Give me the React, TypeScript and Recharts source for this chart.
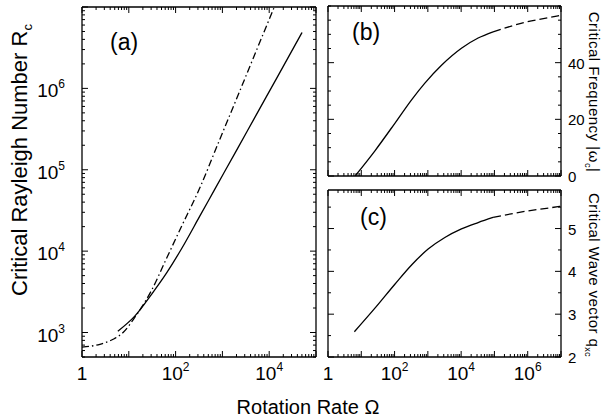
import React from 'react';
import { LineChart, Line, XAxis, YAxis } from 'recharts';

const W = 603;
const H = 418;
const FONT = '"Liberation Sans", Arial, Helvetica, sans-serif';

// (a) critical Rayleigh number vs rotation rate
const aSolidOmega = [5.83, 13.4, 30.9, 64.3, 134, 324, 676, 1990, 5290, 14100, 50300];
const aSolidR = [1038, 1590, 2970, 5400, 1.07e4, 2.65e4, 5.66e4, 1.72e5, 4.73e5, 1.3e6, 4.86e6];
const aDashOmega = [1, 2.41, 4.63, 7.56, 13.4, 30.4, 63.4, 132, 324, 863, 2300, 5560, 13500];
const aDashR = [660, 717, 826, 1000, 1530, 3270, 8040, 1.98e4, 5.87e4, 2.3e5, 9.0e5, 3.1e6, 1.07e7];

// (b) critical frequency
const bSolidOmega = [6.5, 25.7, 102, 324, 813, 2570, 10200, 32400, 91200];
const bSolidFreq = [0, 8.9, 18.6, 26.9, 32.8, 39.1, 45.1, 48.7, 50.9];
const bDashOmega = [91200, 813000, 8.13e6, 1e7];
const bDashFreq = [50.9, 54.2, 56.5, 56.7];

// (c) critical wave vector
const cSolidOmega = [6.2, 25.7, 102, 324, 1020, 3240, 10200, 32400, 91200];
const cSolidQ = [2.59, 3.14, 3.7, 4.15, 4.52, 4.79, 4.99, 5.14, 5.26];
const cDashOmega = [91200, 813000, 8.13e6, 1e7];
const cDashQ = [5.26, 5.4, 5.51, 5.52];

// tick labels
const aXLabels = [1, 1e2, 1e4];
const aYLabels = [1e3, 1e4, 1e5, 1e6];
const bcXLabels = [1, 1e2, 1e4, 1e6];
const bYLabels = [0, 20, 40];
const cYLabels = [2, 3, 4, 5];
const bYTicks = [0, 5, 10, 15, 20, 25, 30, 35, 40, 45, 50, 55, 60];
const cYTicks = [2, 2.5, 3, 3.5, 4, 4.5, 5, 5.5];

const zip = (xs: number[], ys: number[]) => xs.map((x, i) => ({ x, y: ys[i] }));

const logTicks = (lo: number, hi: number) => {
  const out: number[] = [];
  for (let d = Math.floor(Math.log10(lo)); d <= Math.ceil(Math.log10(hi)); d++) {
    for (let k = 1; k <= 9; k++) {
      const v = k * Math.pow(10, d);
      if (v >= lo * 0.999 && v <= hi * 1.001) out.push(v);
    }
  }
  return out;
};

const near = (a: number, b: number) => Math.abs(a - b) <= Math.max(Math.abs(b), 1) * 1e-6;
const isDecade = (v: number) => Math.abs(Math.log10(v) - Math.round(Math.log10(v))) < 1e-6;

const powLabel = (v: number) => {
  const e = Math.round(Math.log10(v));
  if (e === 0) return '1';
  return [
    <tspan key="b">10</tspan>,
    <tspan key="e" dy={-9} fontSize={12}>
      {e}
    </tspan>,
  ];
};

type Side = 'bottom' | 'top' | 'left' | 'right';

const makeTick =
  (side: Side, isMajor: (v: number) => boolean, labels: number[] = [], fmt?: (v: number) => any, fontSize = 19) =>
  (props: any) => {
    const { x, y, payload } = props;
    const v = payload.value as number;
    const len = isMajor(v) ? 6 : 3;
    let x2 = x;
    let y2 = y;
    if (side === 'bottom') y2 = y - len;
    if (side === 'top') y2 = y + len;
    if (side === 'left') x2 = x + len;
    if (side === 'right') x2 = x - len;
    const show = fmt && labels.some((l) => near(v, l));
    let label = null;
    if (show) {
      if (side === 'bottom')
        label = (
          <text x={x} y={y + 23} textAnchor="middle" fontSize={fontSize} fill="#000" fontFamily={FONT}>
            {fmt!(v)}
          </text>
        );
      if (side === 'left')
        label = (
          <text x={x - 17} y={y + 9} textAnchor="end" fontSize={fontSize} fill="#000" fontFamily={FONT}>
            {fmt!(v)}
          </text>
        );
      if (side === 'right')
        label = (
          <text x={x + 7} y={y + 6} textAnchor="start" fontSize={fontSize} fill="#000" fontFamily={FONT}>
            {fmt!(v)}
          </text>
        );
    }
    return (
      <g>
        <line x1={x} y1={y} x2={x2} y2={y2} stroke="#000" strokeWidth={1} />
        {label}
      </g>
    );
  };

const axisLine = { stroke: '#000', strokeWidth: 1.3 };
const common = { tickSize: 0, tickMargin: 0, tickLine: false, axisLine, interval: 0 as const, allowDataOverflow: true };

// plot box in page pixels: left, top, right, bottom
const Panel: React.FC<{
  box: [number, number, number, number];
  xDomain: [number, number];
  yDomain: [number, number];
  yLog: boolean;
  xTicks: number[];
  yTicks: number[];
  xLabels?: number[];
  yLabels: number[];
  yLabelSide: 'left' | 'right';
  yFmt: (v: number) => any;
  yFont: number;
  series: { data: { x: number; y: number }[]; dash?: string }[];
}> = (p) => {
  const yMajor = p.yLog ? isDecade : (v: number) => p.yLabels.some((l) => near(v, l));
  const [l, t, r, b] = p.box;
  // every axis is 1px thick, so the margins are one pixel smaller
  const margin = { left: l - 1, top: t - 1, right: W - r - 1, bottom: H - b - 1 };
  return (
    <div style={{ position: 'absolute', left: 0, top: 0 }}>
      <LineChart width={W} height={H} margin={margin}>
        <XAxis
          {...common}
          xAxisId="b"
          dataKey="x"
          type="number"
          scale="log"
          domain={p.xDomain}
          ticks={p.xTicks}
          height={1}
          tick={makeTick('bottom', isDecade, p.xLabels || [], p.xLabels ? powLabel : undefined)}
        />
        <XAxis
          {...common}
          xAxisId="t"
          orientation="top"
          dataKey="x"
          type="number"
          scale="log"
          domain={p.xDomain}
          ticks={p.xTicks}
          height={1}
          tick={makeTick('top', isDecade)}
        />
        <YAxis
          {...common}
          yAxisId="l"
          dataKey="y"
          type="number"
          scale={p.yLog ? 'log' : 'linear'}
          domain={p.yDomain}
          ticks={p.yTicks}
          width={1}
          tick={makeTick('left', yMajor, p.yLabels, p.yLabelSide === 'left' ? p.yFmt : undefined, p.yFont)}
        />
        <YAxis
          {...common}
          yAxisId="r"
          orientation="right"
          dataKey="y"
          type="number"
          scale={p.yLog ? 'log' : 'linear'}
          domain={p.yDomain}
          ticks={p.yTicks}
          width={1}
          tick={makeTick('right', yMajor, p.yLabels, p.yLabelSide === 'right' ? p.yFmt : undefined, p.yFont)}
        />
        {p.series.map((s, i) => (
          <Line
            key={i}
            xAxisId="b"
            yAxisId="l"
            data={s.data}
            dataKey="y"
            type="monotone"
            stroke="#000"
            strokeWidth={1.3}
            strokeDasharray={s.dash}
            dot={false}
            activeDot={false}
            isAnimationActive={false}
          />
        ))}
      </LineChart>
    </div>
  );
};

export default function App() {
  return (
    <div style={{ position: 'absolute', left: 0, top: 0, width: W, height: H, background: '#fff', fontFamily: FONT }}>
      <Panel
        box={[82, 7, 316, 357]}
        xDomain={[1, 1e5]}
        yDomain={[500, 1e7]}
        yLog
        xTicks={logTicks(1, 1e5)}
        yTicks={logTicks(500, 1e7)}
        xLabels={aXLabels}
        yLabels={aYLabels}
        yLabelSide="left"
        yFmt={powLabel}
        yFont={19}
        series={[
          { data: zip(aSolidOmega, aSolidR) },
          { data: zip(aDashOmega, aDashR), dash: '7 3 1.5 3' },
        ]}
      />
      <Panel
        box={[328, 6, 561, 176]}
        xDomain={[1, 1e7]}
        yDomain={[0, 60]}
        yLog={false}
        xTicks={logTicks(1, 1e7)}
        yTicks={bYTicks}
        yLabels={bYLabels}
        yLabelSide="right"
        yFmt={(v) => String(v)}
        yFont={15}
        series={[{ data: zip(bSolidOmega, bSolidFreq) }, { data: zip(bDashOmega, bDashFreq), dash: '8 4' }]}
      />
      <Panel
        box={[328, 190, 561, 357]}
        xDomain={[1, 1e7]}
        yDomain={[2, 5.9]}
        yLog={false}
        xTicks={logTicks(1, 1e7)}
        yTicks={cYTicks}
        xLabels={bcXLabels}
        yLabels={cYLabels}
        yLabelSide="right"
        yFmt={(v) => String(v)}
        yFont={15}
        series={[{ data: zip(cSolidOmega, cSolidQ) }, { data: zip(cDashOmega, cDashQ), dash: '8 4' }]}
      />
      <svg width={W} height={H} style={{ position: 'absolute', left: 0, top: 0, pointerEvents: 'none' }} fontFamily={FONT}>
        <text x={110} y={50} fontSize={23}>(a)</text>
        <text x={352} y={40} fontSize={23}>(b)</text>
        <text x={360} y={225} fontSize={23}>(c)</text>
        <text transform="translate(27,160) rotate(-90)" textAnchor="middle" fontSize={22}>
          Critical Rayleigh Number R
          <tspan dy={5} fontSize={13}>c</tspan>
        </text>
        <text transform="translate(589,92) rotate(90)" textAnchor="middle" fontSize={15} letterSpacing={0.5}>
          Critical Frequency |ω
          <tspan dy={4} fontSize={9}>c</tspan>
          <tspan dy={-4}>|</tspan>
        </text>
        <text transform="translate(589,275) rotate(90)" textAnchor="middle" fontSize={15} letterSpacing={0.4}>
          Critical Wave  vector q
          <tspan dy={4} fontSize={9}>xc</tspan>
        </text>
        <text x={308} y={414} textAnchor="middle" fontSize={20}>
          Rotation Rate Ω
        </text>
      </svg>
    </div>
  );
}
